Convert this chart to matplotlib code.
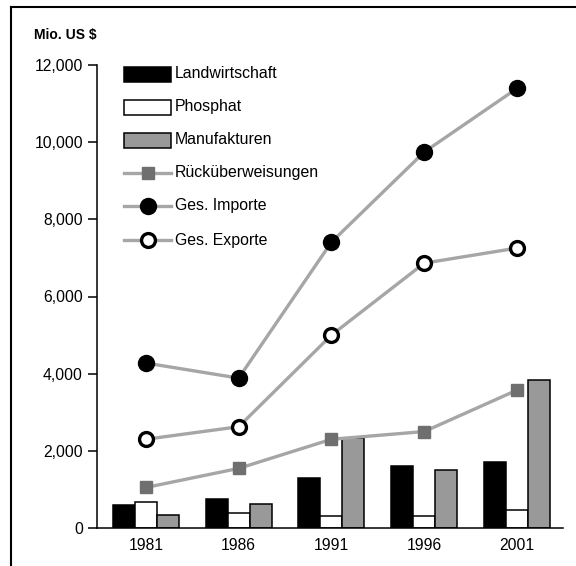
import matplotlib
matplotlib.use("Agg")
import matplotlib.pyplot as plt
import numpy as np
from matplotlib.patches import Rectangle
from matplotlib.lines import Line2D

plt.rcParams['font.family'] = ['Liberation Sans', 'DejaVu Sans']

years = ["1981", "1986", "1991", "1996", "2001"]
landwirtschaft = [600, 740, 1300, 1600, 1720]
phosphat = [680, 380, 320, 320, 465]
manufakturen = [340, 615, 2340, 1500, 3830]
rueckueberweisungen = [1050, 1545, 2300, 2500, 3575]
importe = [4275, 3885, 7410, 9745, 11395]
exporte = [2300, 2625, 5000, 6865, 7255]

yticks = [0, 2000, 4000, 6000, 8000, 10000, 12000]
ytick_labels = ["0", "2,000", "4,000", "6,000", "8,000", "10,000", "12,000"]

W, H = 576, 566
fig = plt.figure(figsize=(W / 100, H / 100), dpi=100)
ax = fig.add_axes([97 / W, 1 - 528 / H, (563 - 97) / W, (528 - 65) / H])

x = np.arange(len(years))
bw = 0.237
bar_gray = "#999999"
line_gray = "#a6a6a6"
sq_gray = "#6f6f6f"

ax.bar(x - bw, landwirtschaft, bw, color="black", edgecolor="black", linewidth=1.1, zorder=2)
ax.bar(x, phosphat, bw, color="white", edgecolor="black", linewidth=1.1, zorder=2)
ax.bar(x + bw, manufakturen, bw, color=bar_gray, edgecolor="black", linewidth=1.1, zorder=2)

ax.plot(x, rueckueberweisungen, color=line_gray, lw=2.4, marker="s", ms=8.5,
        mfc=sq_gray, mec=sq_gray, zorder=3)
ax.plot(x, importe, color=line_gray, lw=2.4, marker="o", ms=11.5,
        mfc="black", mec="black", zorder=3)
ax.plot(x, exporte, color=line_gray, lw=2.4, marker="o", ms=10,
        mfc="white", mec="black", mew=2.4, zorder=3)

ax.set_xlim(-0.527, 4.495)
ax.set_ylim(0, 12000)
ax.set_yticks(yticks)
ax.set_yticklabels(ytick_labels, fontsize=11.3)
ax.set_xticks(x)
ax.set_xticklabels(years, fontsize=11.3)
ax.tick_params(axis="x", length=0, pad=7)
ax.tick_params(axis="y", length=6.5, width=1.1, direction="out", pad=3.6)
for s in ["top", "right"]:
    ax.spines[s].set_visible(False)
for s in ["left", "bottom"]:
    ax.spines[s].set_linewidth(1.1)

fig.text(34 / W, 1 - 35 / H, "Mio. US $", fontsize=10, fontweight="bold",
         ha="left", va="center")

# legend drawn in figure pixel coordinates
def fx(px):
    return px / W

def fy(py):
    return 1 - py / H

rows = [74, 107, 140, 173, 206, 240]
labels = ["Landwirtschaft", "Phosphat", "Manufakturen", "Rücküberweisungen",
          "Ges. Importe", "Ges. Exporte"]
x0, x1 = 124, 171
rh = 15
for py, fc in zip(rows[:3], ["black", "white", bar_gray]):
    fig.add_artist(Rectangle((fx(x0), fy(py + rh / 2)), fx(x1) - fx(x0), rh / H,
                             facecolor=fc, edgecolor="black", linewidth=1.1,
                             transform=fig.transFigure))
styles = [
    dict(marker="s", ms=8.5, mfc=sq_gray, mec=sq_gray),
    dict(marker="o", ms=11.5, mfc="black", mec="black"),
    dict(marker="o", ms=10, mfc="white", mec="black", mew=2.4),
]
for py, st in zip(rows[3:], styles):
    fig.add_artist(Line2D([fx(x0), fx(x1)], [fy(py), fy(py)], color=line_gray,
                          lw=2.4, transform=fig.transFigure))
    fig.add_artist(Line2D([fx((x0 + x1) / 2)], [fy(py)], linestyle="none",
                          transform=fig.transFigure, **st))
for py, lab in zip(rows, labels):
    fig.text(fx(175), fy(py), lab, fontsize=11.4, ha="left", va="center")

# outer frame: top and left edges
fig.add_artist(Line2D([fx(11), 1.0], [fy(7), fy(7)], color="black", lw=1.5,
                      transform=fig.transFigure))
fig.add_artist(Line2D([fx(11), fx(11)], [fy(7), 0.0], color="black", lw=1.5,
                      transform=fig.transFigure))

fig.savefig("out.png", dpi=100)
